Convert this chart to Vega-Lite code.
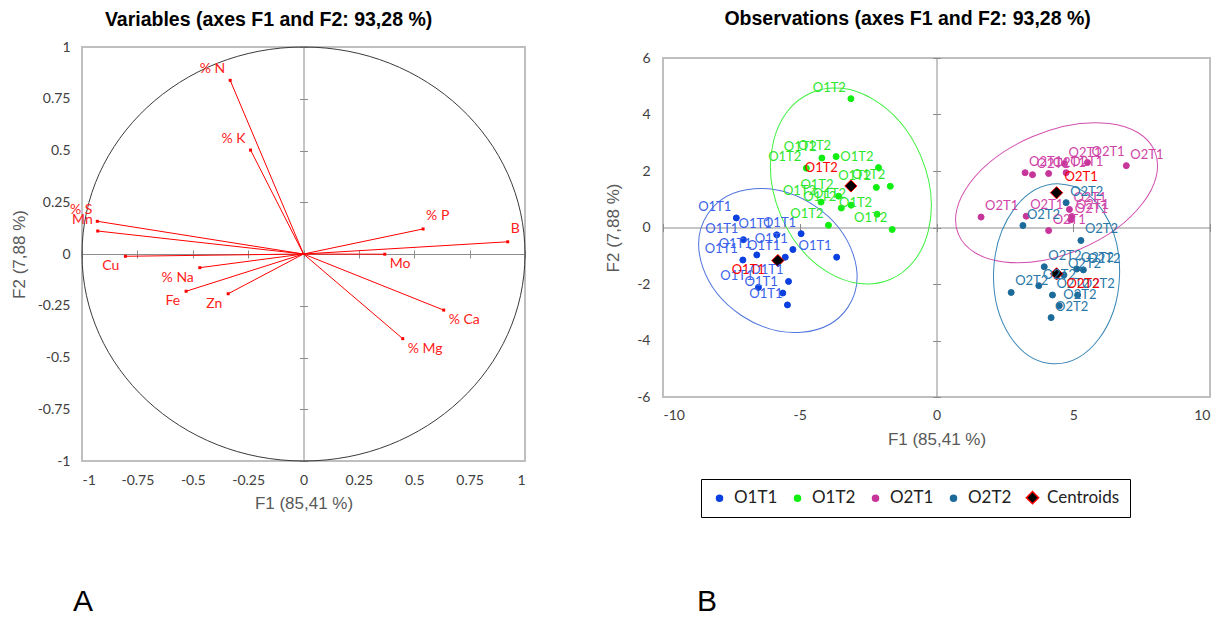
{
  "$schema": "https://vega.github.io/schema/vega-lite/v6.json",
  "padding": {"left": 9, "top": 8, "right": 0, "bottom": 0},
  "background": "white",
  "datasets": {
    "vars": [
      {"v": "% N", "x": -0.331, "y": 0.839},
      {"v": "% K", "x": -0.239, "y": 0.502},
      {"v": "% S", "x": -0.931, "y": 0.158},
      {"v": "Mn", "x": -0.929, "y": 0.111},
      {"v": "Cu", "x": -0.804, "y": -0.011},
      {"v": "% Na", "x": -0.468, "y": -0.066},
      {"v": "Fe", "x": -0.53, "y": -0.18},
      {"v": "Zn", "x": -0.34, "y": -0.192},
      {"v": "% P", "x": 0.54, "y": 0.121},
      {"v": "B", "x": 0.922, "y": 0.059},
      {"v": "Mo", "x": 0.367, "y": -0.001},
      {"v": "% Ca", "x": 0.633, "y": -0.271},
      {"v": "% Mg", "x": 0.448, "y": -0.409}
    ],
    "obs": [
      {"series": "O1T1", "x": -7.32, "y": 0.34},
      {"series": "O1T1", "x": -5.84, "y": -0.26},
      {"series": "O1T1", "x": -4.95, "y": -0.22},
      {"series": "O1T1", "x": -7.06, "y": -0.43},
      {"series": "O1T1", "x": -5.25, "y": -0.78},
      {"series": "O1T1", "x": -6.57, "y": -0.97},
      {"series": "O1T1", "x": -5.53, "y": -1.05},
      {"series": "O1T1", "x": -7.08, "y": -1.15},
      {"series": "O1T1", "x": -3.65, "y": -1.05},
      {"series": "O1T1", "x": -5.41, "y": -1.91},
      {"series": "O1T1", "x": -6.51, "y": -2.12},
      {"series": "O1T1", "x": -5.62, "y": -2.32},
      {"series": "O1T1", "x": -5.45, "y": -2.74},
      {"series": "O1T2", "x": -3.13, "y": 4.56},
      {"series": "O1T2", "x": -4.19, "y": 2.46},
      {"series": "O1T2", "x": -3.67, "y": 2.51},
      {"series": "O1T2", "x": -4.76, "y": 2.1},
      {"series": "O1T2", "x": -2.12, "y": 2.12},
      {"series": "O1T2", "x": -2.2, "y": 1.42},
      {"series": "O1T2", "x": -1.69, "y": 1.46},
      {"series": "O1T2", "x": -3.58, "y": 1.11},
      {"series": "O1T2", "x": -4.22, "y": 0.9},
      {"series": "O1T2", "x": -3.12, "y": 0.79},
      {"series": "O1T2", "x": -3.48, "y": 0.69},
      {"series": "O1T2", "x": -2.17, "y": 0.47},
      {"series": "O1T2", "x": -3.95, "y": 0.08},
      {"series": "O1T2", "x": -1.62, "y": -0.07},
      {"series": "O2T1", "x": 3.24, "y": 1.94},
      {"series": "O2T1", "x": 3.51, "y": 1.87},
      {"series": "O2T1", "x": 4.1, "y": 1.91},
      {"series": "O2T1", "x": 4.68, "y": 2.26},
      {"series": "O2T1", "x": 5.52, "y": 2.3},
      {"series": "O2T1", "x": 6.94, "y": 2.19},
      {"series": "O2T1", "x": 4.74, "y": 1.94},
      {"series": "O2T1", "x": 4.86, "y": 0.64},
      {"series": "O2T1", "x": 4.95, "y": 0.39},
      {"series": "O2T1", "x": 4.91, "y": 0.27},
      {"series": "O2T1", "x": 3.28, "y": 0.4},
      {"series": "O2T1", "x": 1.63, "y": 0.37},
      {"series": "O2T1", "x": 4.1, "y": -0.11},
      {"series": "O2T2", "x": 4.74, "y": 0.88},
      {"series": "O2T2", "x": 3.16, "y": 0.07},
      {"series": "O2T2", "x": 5.28, "y": -0.46},
      {"series": "O2T2", "x": 3.94, "y": -1.39},
      {"series": "O2T2", "x": 5.13, "y": -1.47},
      {"series": "O2T2", "x": 5.37, "y": -1.5},
      {"series": "O2T2", "x": 4.66, "y": -1.68},
      {"series": "O2T2", "x": 3.74, "y": -2.06},
      {"series": "O2T2", "x": 2.73, "y": -2.3},
      {"series": "O2T2", "x": 4.24, "y": -2.39},
      {"series": "O2T2", "x": 5.16, "y": -2.39},
      {"series": "O2T2", "x": 4.49, "y": -2.77},
      {"series": "O2T2", "x": 4.19, "y": -3.19},
      {"series": "Centroids", "name": "O1T1", "x": -5.8, "y": -1.17},
      {"series": "Centroids", "name": "O1T2", "x": -3.13, "y": 1.47},
      {"series": "Centroids", "name": "O2T1", "x": 4.39, "y": 1.23},
      {"series": "Centroids", "name": "O2T2", "x": 4.39, "y": -1.64}
    ]
  },
  "vconcat": [
    {
      "hconcat": [
        {
          "width": 443,
          "height": 414,
          "title": {"text": "Variables (axes F1 and F2: 93,28 %)", "offset": 10},
          "data": {"name": "vars"},
          "layer": [
            {
              "data": {"values": [{"c": "circle"}]},
              "mark": {"type": "point", "shape": "M-1,0A1,0.9345 0 1,0 1,0A1,0.9345 0 1,0 -1,0Z", "size": 196249, "filled": false, "stroke": "#3a3a3a", "strokeWidth": 1, "opacity": 1},
              "encoding": {
                "x": {"datum": 0, "type": "quantitative", "scale": {"domain": [-1, 1], "nice": false, "zero": false},
                  "axis": {"title": "F1 (85,41 %)", "values": [-1, -0.75, -0.5, -0.25, 0, 0.25, 0.5, 0.75, 1], "labelExpr": "datum.value + ''", "ticks": false, "tickSize": 0, "domain": false, "labelPadding": 12, "titlePadding": 8}},
                "y": {"datum": 0, "type": "quantitative", "scale": {"domain": [-1, 1], "nice": false, "zero": false},
                  "axis": {"title": "F2 (7,88 %)", "values": [-1, -0.75, -0.5, -0.25, 0, 0.25, 0.5, 0.75, 1], "labelExpr": "datum.value + ''", "ticks": false, "tickSize": 0, "domain": false, "labelPadding": 12, "titlePadding": 9}}
              }
            },
            {
              "mark": {"type": "rule", "color": "#ff0000", "strokeWidth": 1},
              "encoding": {
                "x": {"field": "x", "type": "quantitative", "scale": {"domain": [-1, 1], "nice": false, "zero": false},
                  "axis": {"orient": "bottom", "offset": -207, "labels": false, "title": null, "values": [-1, -0.75, -0.5, -0.25, 0, 0.25, 0.5, 0.75, 1], "domain": true, "domainColor": "#8c8c8c", "ticks": true, "tickColor": "#8c8c8c", "tickSize": 4}},
                "y": {"field": "y", "type": "quantitative", "scale": {"domain": [-1, 1], "nice": false, "zero": false},
                  "axis": {"orient": "left", "offset": -221.5, "labels": false, "title": null, "values": [-1, -0.75, -0.5, -0.25, 0, 0.25, 0.5, 0.75, 1], "domain": true, "domainColor": "#8c8c8c", "ticks": true, "tickColor": "#8c8c8c", "tickSize": 4}},
                "x2": {"datum": 0},
                "y2": {"datum": 0}
              }
            },
            {
              "mark": {"type": "point", "shape": "square", "size": 9, "filled": true, "color": "#ff0000", "opacity": 1},
              "encoding": {
                "x": {"field": "x", "type": "quantitative", "scale": {"domain": [-1, 1], "nice": false, "zero": false},
                  "axis": {"orient": "top", "offset": -207, "labels": false, "title": null, "values": [-1, -0.75, -0.5, -0.25, 0, 0.25, 0.5, 0.75, 1], "domain": false, "ticks": true, "tickColor": "#8c8c8c", "tickSize": 4}},
                "y": {"field": "y", "type": "quantitative", "scale": {"domain": [-1, 1], "nice": false, "zero": false},
                  "axis": {"orient": "right", "offset": -221.5, "labels": false, "title": null, "values": [-1, -0.75, -0.5, -0.25, 0, 0.25, 0.5, 0.75, 1], "domain": false, "ticks": true, "tickColor": "#8c8c8c", "tickSize": 4}}
              }
            },
            {
              "transform": [{"filter": "datum.x < 0 && datum.y > 0"}],
              "mark": {"type": "text", "color": "#ff2020", "font": "Lato", "fontSize": 14, "align": "right", "baseline": "bottom", "dx": -5, "dy": -4},
              "encoding": {
                "x": {"field": "x", "type": "quantitative", "axis": null},
                "y": {"field": "y", "type": "quantitative", "axis": null},
                "text": {"field": "v"}
              }
            },
            {
              "transform": [{"filter": "datum.x < 0 && datum.y <= 0"}],
              "mark": {"type": "text", "color": "#ff2020", "font": "Lato", "fontSize": 14, "align": "right", "baseline": "top", "dx": -6, "dy": 3},
              "encoding": {
                "x": {"field": "x", "type": "quantitative", "axis": null},
                "y": {"field": "y", "type": "quantitative", "axis": null},
                "text": {"field": "v"}
              }
            },
            {
              "transform": [{"filter": "datum.x > 0 && datum.y > 0"}],
              "mark": {"type": "text", "color": "#ff2020", "font": "Lato", "fontSize": 14, "align": "left", "baseline": "bottom", "dx": 3, "dy": -6},
              "encoding": {
                "x": {"field": "x", "type": "quantitative", "axis": null},
                "y": {"field": "y", "type": "quantitative", "axis": null},
                "text": {"field": "v"}
              }
            },
            {
              "transform": [{"filter": "datum.x > 0 && datum.y <= 0"}],
              "mark": {"type": "text", "color": "#ff2020", "font": "Lato", "fontSize": 14, "align": "left", "baseline": "top", "dx": 5, "dy": 3},
              "encoding": {
                "x": {"field": "x", "type": "quantitative", "axis": null},
                "y": {"field": "y", "type": "quantitative", "axis": null},
                "text": {"field": "v"}
              }
            }
          ],
          "resolve": {"axis": {"x": "independent", "y": "independent"}}
        },
        {
          "title": {"text": "Observations (axes F1 and F2: 93,28 %)", "offset": 18},
          "vconcat": [
            {
              "width": 547,
              "height": 1,
              "view": {"stroke": null},
              "data": {"values": []},
              "mark": {"type": "point", "opacity": 0},
              "encoding": {}
            },
            {
              "width": 547,
              "height": 339,
              "data": {"name": "obs"},
              "layer": [
                {
                  "transform": [{"filter": "datum.name === 'O1T1'"}],
                  "mark": {"type": "point", "shape": "M-1,0A1,0.783 0 1,0 1,0A1,0.783 0 1,0 -1,0Z", "size": 28359, "angle": 33.6, "filled": false, "stroke": "#4f74dc", "strokeWidth": 1, "opacity": 1},
                  "encoding": {
                    "x": {"field": "x", "type": "quantitative", "scale": {"domain": [-10, 10], "nice": false, "zero": false}, "axis": null},
                    "y": {"field": "y", "type": "quantitative", "scale": {"domain": [-6, 6], "nice": false, "zero": false}, "axis": null}
                  }
                },
                {
                  "transform": [{"filter": "datum.name === 'O1T2'"}],
                  "mark": {"type": "point", "shape": "M-1,0A1,0.75 0 1,0 1,0A1,0.75 0 1,0 -1,0Z", "size": 41128, "angle": 67.3, "filled": false, "stroke": "#3ef03e", "strokeWidth": 1, "opacity": 1},
                  "encoding": {
                    "x": {"field": "x", "type": "quantitative", "scale": {"domain": [-10, 10], "nice": false, "zero": false}, "axis": null},
                    "y": {"field": "y", "type": "quantitative", "scale": {"domain": [-6, 6], "nice": false, "zero": false}, "axis": null}
                  }
                },
                {
                  "transform": [{"filter": "datum.name === 'O2T1'"}],
                  "mark": {"type": "point", "shape": "M-1,0A1,0.573 0 1,0 1,0A1,0.573 0 1,0 -1,0Z", "size": 45454, "angle": -23, "filled": false, "stroke": "#d24fae", "strokeWidth": 1, "opacity": 1},
                  "encoding": {
                    "x": {"field": "x", "type": "quantitative", "scale": {"domain": [-10, 10], "nice": false, "zero": false}, "axis": null},
                    "y": {"field": "y", "type": "quantitative", "scale": {"domain": [-6, 6], "nice": false, "zero": false}, "axis": null}
                  }
                },
                {
                  "transform": [{"filter": "datum.name === 'O2T2'"}],
                  "mark": {"type": "point", "shape": "M-1,0A1,0.70 0 1,0 1,0A1,0.70 0 1,0 -1,0Z", "size": 32400, "angle": -87.9, "filled": false, "stroke": "#3b88b6", "strokeWidth": 1, "opacity": 1},
                  "encoding": {
                    "x": {"field": "x", "type": "quantitative", "scale": {"domain": [-10, 10], "nice": false, "zero": false}, "axis": null},
                    "y": {"field": "y", "type": "quantitative", "scale": {"domain": [-6, 6], "nice": false, "zero": false}, "axis": null}
                  }
                },
                {
                  "mark": {"type": "point", "filled": true, "opacity": 1, "strokeWidth": 1},
                  "encoding": {
                    "x": {"field": "x", "type": "quantitative", "scale": {"domain": [-10, 10], "nice": false, "zero": false},
                      "axis": {"title": "F1 (85,41 %)", "values": [-10, -5, 0, 5, 10], "labelExpr": "datum.value + ''", "ticks": false, "tickSize": 0, "domain": false, "labelPadding": 11, "titlePadding": 9}},
                    "y": {"field": "y", "type": "quantitative", "scale": {"domain": [-6, 6], "nice": false, "zero": false},
                      "axis": {"title": "F2 (7,88 %)", "values": [-6, -4, -2, 0, 2, 4, 6], "labelExpr": "datum.value + ''", "ticks": false, "tickSize": 0, "domain": false, "labelPadding": 13, "titlePadding": 14}},
                    "fill": {"field": "series", "type": "nominal",
                      "scale": {"domain": ["O1T1", "O1T2", "O2T1", "O2T2", "Centroids"], "range": ["#0a40e0", "#11ee11", "#c8359a", "#1b6b9a", "#000000"]},
                      "legend": {"orient": "none", "legendX": 38, "legendY": 421, "direction": "horizontal", "title": null, "strokeColor": "#000000", "padding": 10, "labelFont": "Lato", "labelFontSize": 17, "labelColor": "#222222", "columnPadding": 11, "labelOffset": 6}},
                    "stroke": {"field": "series", "type": "nominal",
                      "scale": {"domain": ["O1T1", "O1T2", "O2T1", "O2T2", "Centroids"], "range": ["#0a40e0", "#11ee11", "#c8359a", "#1b6b9a", "#ff0000"]}},
                    "shape": {"field": "series", "type": "nominal",
                      "scale": {"domain": ["O1T1", "O1T2", "O2T1", "O2T2", "Centroids"], "range": ["circle", "circle", "circle", "circle", "diamond"]}},
                    "size": {"field": "series", "type": "nominal",
                      "scale": {"type": "ordinal", "domain": ["O1T1", "O1T2", "O2T1", "O2T2", "Centroids"], "range": [36, 36, 36, 36, 150]}}
                  }
                },
                {
                  "transform": [{"filter": "datum.series !== 'Centroids' && datum.x < 0"}],
                  "mark": {"type": "text", "font": "Lato", "fontSize": 13, "align": "right", "baseline": "bottom", "dx": -5, "dy": -4},
                  "encoding": {
                    "x": {"field": "x", "type": "quantitative", "scale": {"domain": [-10, 10], "nice": false, "zero": false},
                      "axis": {"orient": "bottom", "offset": -169.5, "labels": false, "title": null, "values": [-10, -5, 0, 5, 10], "domain": true, "domainColor": "#8c8c8c", "ticks": true, "tickColor": "#8c8c8c", "tickSize": 4}},
                    "y": {"field": "y", "type": "quantitative", "scale": {"domain": [-6, 6], "nice": false, "zero": false},
                      "axis": {"orient": "left", "offset": -273.5, "labels": false, "title": null, "values": [-6, -4, -2, 0, 2, 4, 6], "domain": true, "domainColor": "#8c8c8c", "ticks": true, "tickColor": "#8c8c8c", "tickSize": 4}},
                    "text": {"field": "series"},
                    "color": {"field": "series", "type": "nominal",
                      "scale": {"domain": ["O1T1", "O1T2", "O2T1", "O2T2"], "range": ["#3a62ea", "#2ee62e", "#cf45a8", "#2a78a8"]}, "legend": null}
                  }
                },
                {
                  "transform": [{"filter": "datum.series !== 'Centroids' && datum.x > 0"}],
                  "mark": {"type": "text", "font": "Lato", "fontSize": 13, "align": "left", "baseline": "bottom", "dx": 4, "dy": -4},
                  "encoding": {
                    "x": {"field": "x", "type": "quantitative", "scale": {"domain": [-10, 10], "nice": false, "zero": false},
                      "axis": {"orient": "top", "offset": -169.5, "labels": false, "title": null, "values": [-10, -5, 0, 5, 10], "domain": false, "ticks": true, "tickColor": "#8c8c8c", "tickSize": 4}},
                    "y": {"field": "y", "type": "quantitative", "scale": {"domain": [-6, 6], "nice": false, "zero": false},
                      "axis": {"orient": "right", "offset": -273.5, "labels": false, "title": null, "values": [-6, -4, -2, 0, 2, 4, 6], "domain": false, "ticks": true, "tickColor": "#8c8c8c", "tickSize": 4}},
                    "text": {"field": "series"},
                    "color": {"field": "series", "type": "nominal",
                      "scale": {"domain": ["O1T1", "O1T2", "O2T1", "O2T2"], "range": ["#3a62ea", "#2ee62e", "#cf45a8", "#2a78a8"]}, "legend": null}
                  }
                },
                {
                  "transform": [{"filter": "datum.name === 'O1T1'"}],
                  "mark": {"type": "text", "font": "Lato", "fontSize": 13, "color": "#ff0000", "align": "right", "baseline": "middle", "dx": -13, "dy": 9},
                  "encoding": {
                    "x": {"field": "x", "type": "quantitative", "axis": null},
                    "y": {"field": "y", "type": "quantitative", "axis": null},
                    "text": {"field": "name"}
                  }
                },
                {
                  "transform": [{"filter": "datum.name === 'O1T2'"}],
                  "mark": {"type": "text", "font": "Lato", "fontSize": 13, "color": "#ff0000", "align": "right", "baseline": "middle", "dx": -13, "dy": -18},
                  "encoding": {
                    "x": {"field": "x", "type": "quantitative", "axis": null},
                    "y": {"field": "y", "type": "quantitative", "axis": null},
                    "text": {"field": "name"}
                  }
                },
                {
                  "transform": [{"filter": "datum.name === 'O2T1'"}],
                  "mark": {"type": "text", "font": "Lato", "fontSize": 13, "color": "#ff0000", "align": "left", "baseline": "middle", "dx": 8, "dy": -16},
                  "encoding": {
                    "x": {"field": "x", "type": "quantitative", "axis": null},
                    "y": {"field": "y", "type": "quantitative", "axis": null},
                    "text": {"field": "name"}
                  }
                },
                {
                  "transform": [{"filter": "datum.name === 'O2T2'"}],
                  "mark": {"type": "text", "font": "Lato", "fontSize": 13, "color": "#ff0000", "align": "left", "baseline": "middle", "dx": 10, "dy": 10},
                  "encoding": {
                    "x": {"field": "x", "type": "quantitative", "axis": null},
                    "y": {"field": "y", "type": "quantitative", "axis": null},
                    "text": {"field": "name"}
                  }
                }
              ],
              "resolve": {"axis": {"x": "independent", "y": "independent"}}
            }
          ],
          "spacing": 2,
          "resolve": {
            "scale": {"fill": "independent", "stroke": "independent", "shape": "independent", "size": "independent", "color": "independent"},
            "legend": {"fill": "independent", "stroke": "independent", "shape": "independent", "size": "independent", "color": "independent"}
          }
        }
      ],
      "spacing": 75,
      "resolve": {
        "scale": {"fill": "independent", "stroke": "independent", "shape": "independent", "size": "independent", "color": "independent"},
        "legend": {"fill": "independent", "stroke": "independent", "shape": "independent", "size": "independent", "color": "independent"}
      }
    },
    {
      "hconcat": [
        {
          "width": 2,
          "height": 20,
          "view": {"stroke": null},
          "data": {"values": [{"t": "A"}]},
          "mark": {"type": "text", "font": "Liberation Sans", "fontSize": 30, "align": "center", "baseline": "middle", "color": "#000000"},
          "encoding": {"text": {"field": "t"}}
        },
        {
          "width": 2,
          "height": 20,
          "view": {"stroke": null},
          "data": {"values": [{"t": "B"}]},
          "mark": {"type": "text", "font": "Liberation Sans", "fontSize": 30, "align": "center", "baseline": "middle", "color": "#000000"},
          "encoding": {"text": {"field": "t"}}
        }
      ],
      "spacing": 602
    }
  ],
  "spacing": 68,
  "config": {
    "view": {"stroke": "#bfbfbf", "strokeWidth": 2},
    "font": "Lato",
    "title": {"font": "Liberation Sans", "fontSize": 19.5, "fontWeight": "bold", "color": "#000000", "anchor": "middle", "frame": "bounds"},
    "axis": {"grid": false, "labelFont": "Lato", "labelFontSize": 14, "labelColor": "#404040", "titleFont": "Liberation Sans", "titleFontSize": 17, "titleFontWeight": "normal", "titleColor": "#595959"}
  }
}
